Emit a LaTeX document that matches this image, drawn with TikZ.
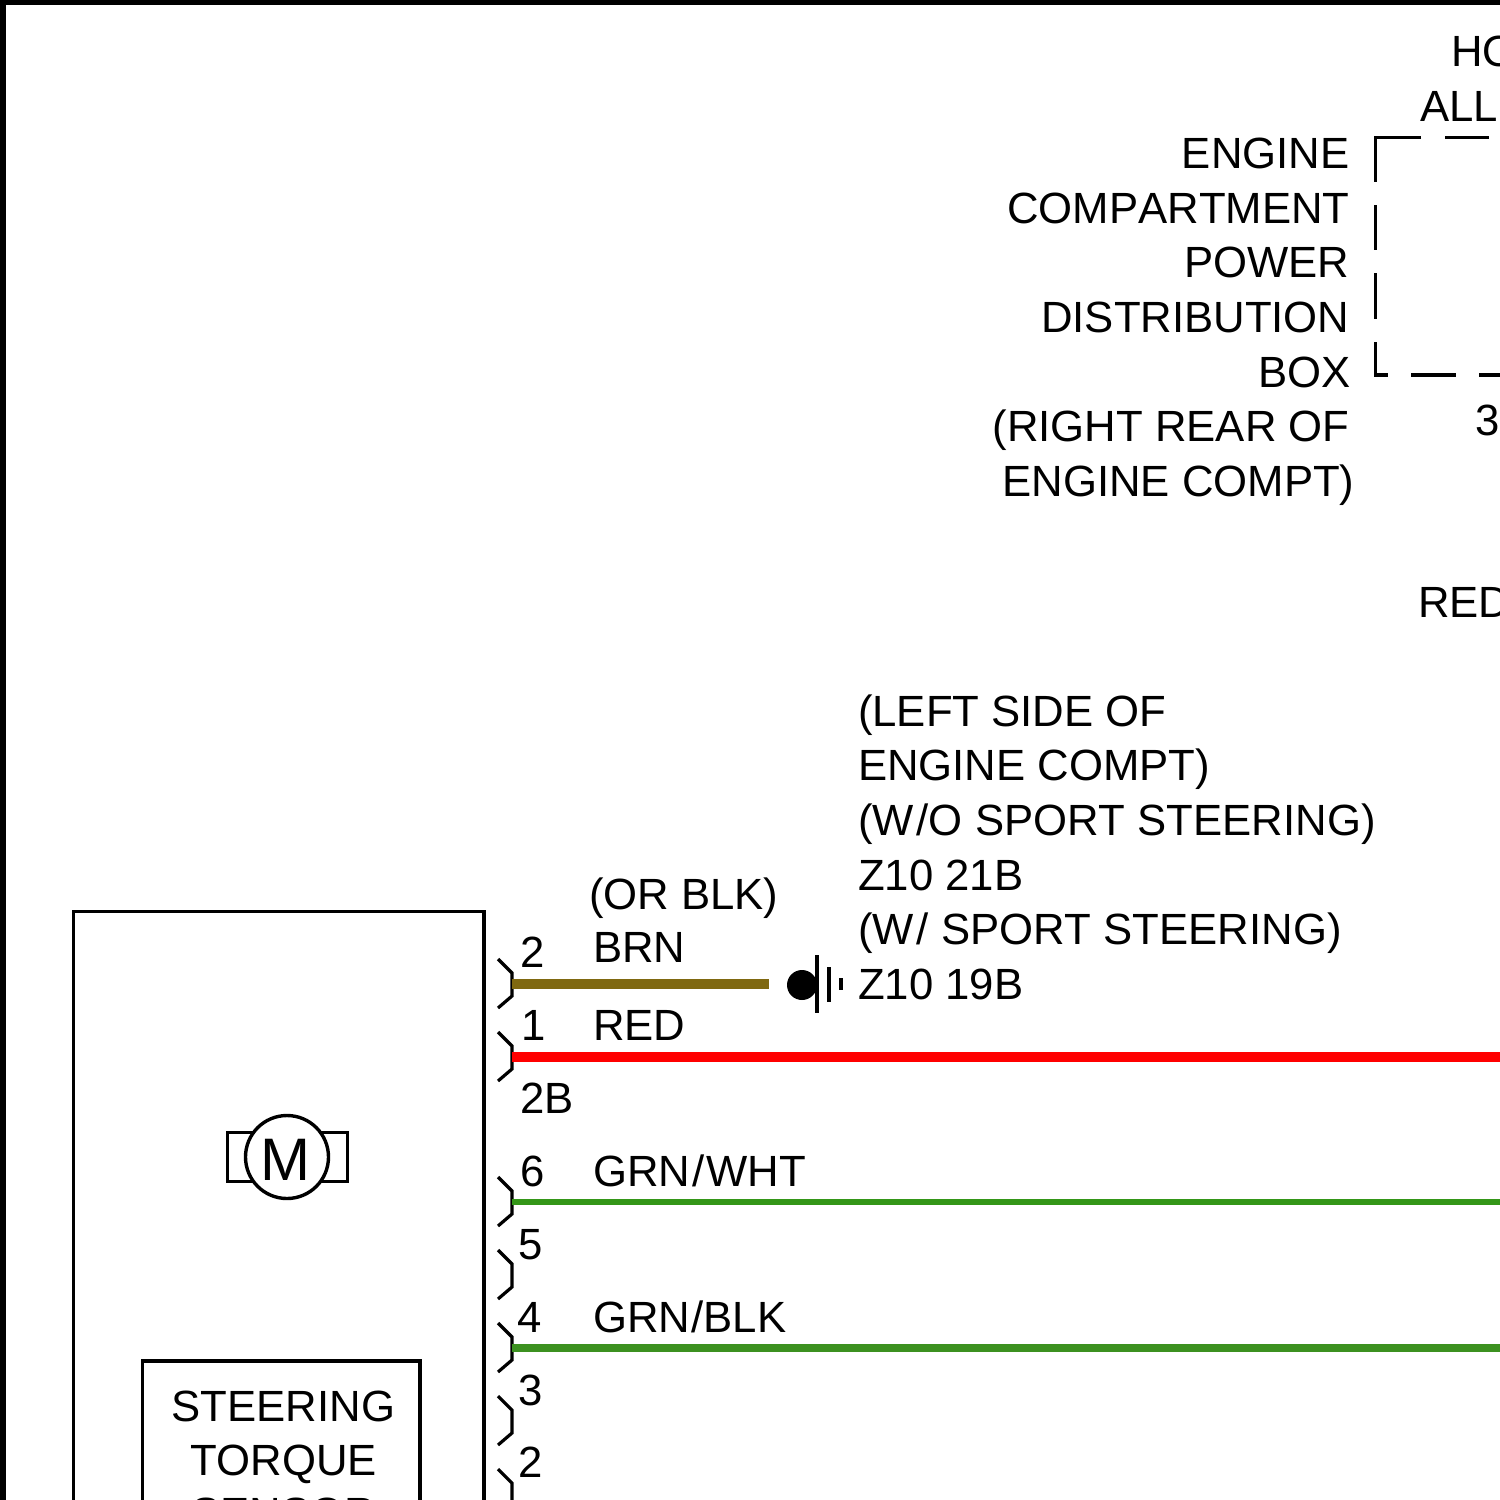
\documentclass[tikz,border=0pt]{standalone}
\usepackage{fontspec}
\setmainfont[Kerning=Off]{Liberation Sans}
\begin{document}
\begin{tikzpicture}[x=0.5pt,y=-0.5pt,
  lbl/.style={inner sep=0pt,outer sep=0pt,font=\fontsize{21.85pt}{26pt}\selectfont},
  lw/.style={lbl,anchor=base west},
  le/.style={lbl,anchor=base east},
  lc/.style={lbl,anchor=base},
  outline/.style={draw=black,line width=1.55pt},
  thin line/.style={draw=black,line width=1.7pt},
  pin/.style={draw=black,line width=1.6pt,line join=miter},
  wire/.style={line width=#1,line cap=butt}]
\useasboundingbox (0,0) rectangle (1500,1500);
\clip (0,0) rectangle (1500,1500);
\fill[white] (0,0) rectangle (1500,1500);
% frame
\fill[black] (0,0) rectangle (1500,5);
\fill[black] (0,0) rectangle (6,1500);
% module boxes
\draw[outline] (73.5,1510) -- (73.5,911.5) -- (484,911.5) -- (484,1510);
\draw[outline] (142.5,1510) -- (142.5,1361) -- (420,1361) -- (420,1510);
% motor
\draw[outline] (227.5,1132.5) rectangle (347.5,1181.5);
\node[circle,draw=black,fill=white,line width=1.7pt,minimum size=41.5pt,inner sep=0pt] (motor) at (287,1157) {};
\node[lbl,anchor=base,font=\fontsize{30pt}{36pt}\selectfont] (motorM) at (285,1180) {M};
% connector pins
\foreach \n/\y in {a/984,b/1057,c/1202,d/1275,e/1348,f/1421,g/1494}{
  \coordinate (pin\n) at (512,\y);
  \draw[pin] (498,\y-25) -- (512,\y-11) -- (512,\y+12) -- (498,\y+24);
}
% wires
\coordinate (brnend) at (769,984);
\coordinate (redend) at (1500,1057);
\coordinate (gwend) at (1500,1202);
\coordinate (gbend) at (1500,1348);
\draw[wire=4.8pt,color={rgb,255:red,127;green,104;blue,16}] (pina) -- (brnend);
\draw[wire=4.6pt,color=red] (pinb) -- (redend);
\draw[wire=3.4pt,color={rgb,255:red,52;green,150;blue,24}] (pinc) -- (gwend);
\draw[wire=4.4pt,color={rgb,255:red,60;green,145;blue,32}] (pine) -- (gbend);
% ground
\node[circle,fill=black,minimum size=15pt,inner sep=0pt] (gnd) at (802,985) {};
\draw[thin line] (817,955) -- (817,1013);
\draw[thin line] (829,967) -- (829,1002);
\draw[thin line] (841,978) -- (841,990);
% dashed enclosure
\begin{scope}[line width=1.7pt,line cap=butt]
\draw (1421,137.5) -- (1375.5,137.5) -- (1375.5,182);
\draw (1445,137.5) -- (1489,137.5);
\draw (1375.5,205) -- (1375.5,250);
\draw (1375.5,273) -- (1375.5,319);
\draw (1375.5,342) -- (1375.5,375) -- (1388,375);
\draw (1411,375) -- (1456,375);
\draw (1479,375) -- (1510,375);
\end{scope}
% labels, top right
\node[lw] (ho) at (1451,66) {HO};
\node[lw] (all) at (1420,121) {ALL};
\node[lw] (three) at (1475,435) {3};
\node[lw] (redtop) at (1418,617) {RED};
\node[le] (t1) at (1349.5,168) {ENGINE};
\node[le] (t2) at (1349.5,223) {COMPARTMENT};
\node[le] (t3) at (1349.5,277) {POWER};
\node[le] (t4) at (1349.5,332) {DISTRIBUTION};
\node[le] (t5) at (1350.5,387) {BOX};
\node[le] (t6) at (1349.5,441) {(RIGHT REAR OF};
\node[le] (t7) at (1354.5,496) {ENGINE COMPT)};
% ground labels
\node[lw] (g1) at (858,726) {(LEFT SIDE OF};
\node[lw] (g2) at (858,780) {ENGINE COMPT)};
\node[lw] (g3) at (858,835) {(W\kern1.5pt/O SPORT STEERING)};
\node[lw] (g4) at (858,890) {Z10 21B};
\node[lw] (g5) at (858,944) {(W\kern1.5pt/ SPORT STEERING)};
\node[lw] (g6) at (858,999) {Z10 19B};
% wire labels
\node[lw] (w0) at (589,909) {(OR BLK)};
\node[lw] (w1) at (593,962) {BRN};
\node[lw] (w2) at (593,1040) {RED};
\node[lw] (w3) at (593,1186) {GRN\kern1pt/\kern1pt WHT};
\node[lw] (w4) at (593,1332) {GRN\kern.7pt/BLK};
% pin numbers
\node[lw] (p2) at (520,967) {2};
\node[lw] (p1) at (521,1040) {1};
\node[lw] (p2b) at (520,1113) {2B};
\node[lw] (p6) at (520,1186) {6};
\node[lw] (p5) at (518,1259) {5};
\node[lw] (p4) at (517,1332) {4};
\node[lw] (p3) at (518,1405) {3};
\node[lw] (p22) at (518,1477) {2};
% sensor
\node[lc] (s1) at (283.5,1421) {STEERING};
\node[lc] (s2) at (283.5,1475) {TORQUE};
\node[lc] (s3) at (283.5,1528) {SENSOR};
\end{tikzpicture}
\end{document}
